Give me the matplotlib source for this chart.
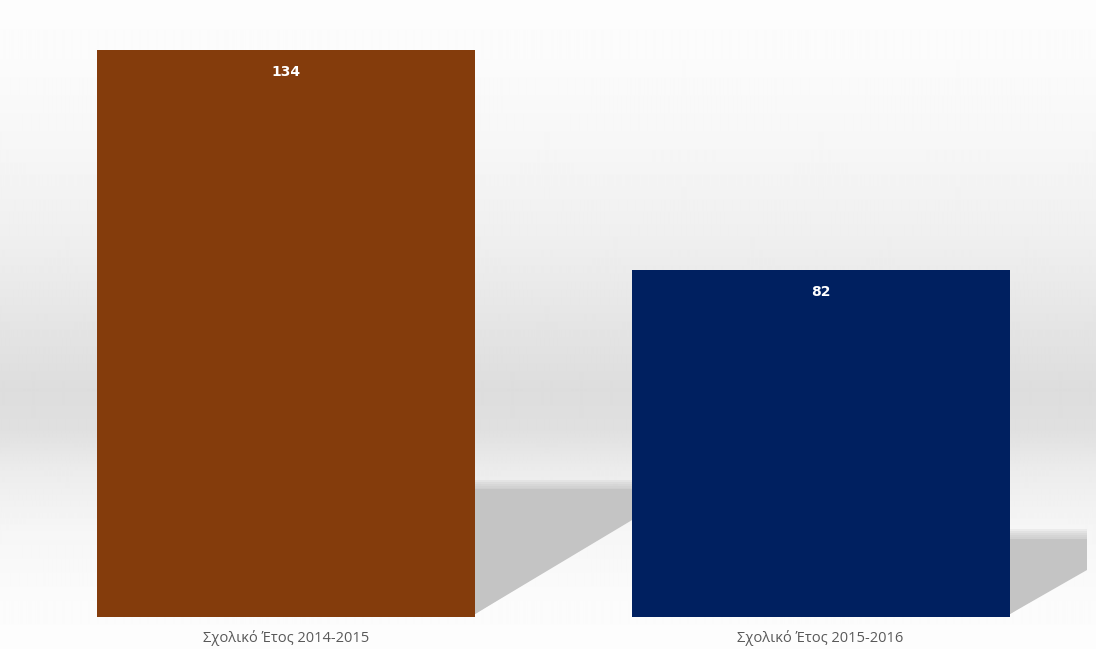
import matplotlib.pyplot as plt
import numpy as np
from matplotlib.patches import Polygon

# Data
categories = ["Σχολικό Έτος 2014-2015", "Σχολικό Έτος 2015-2016"]
values = [134, 82]
colors = ["#843C0C", "#002060"]

W, H = 1096, 649
fig = plt.figure(figsize=(W / 100, H / 100), dpi=100)

# background: soft vertical grey band
bg = fig.add_axes([0, 0, 1, 1], zorder=0)
stops_y = [0, 60, 150, 250, 330, 390, 430, 470, 530, 600, 649]
stops_v = [253, 251, 246, 238, 228, 221, 224, 236, 246, 251, 253]
col = np.interp(np.arange(H), stops_y, stops_v) / 255.0
img = np.repeat(col[:, None], 4, axis=1)
bg.imshow(img, cmap="gray", vmin=0, vmax=1, aspect="auto",
          extent=[0, 1, 0, 1], interpolation="bilinear")
bg.axis("off")

# plot area: baseline at 617px from top
base_px = 617
ax = fig.add_axes([0, (H - base_px) / H, 1, base_px / H], zorder=1)
ax.patch.set_alpha(0)
px_per_unit = 534.5
x_left = -286 / px_per_unit
ax.set_xlim(x_left, x_left + W / px_per_unit)
y_scale = 567 / 134.0  # px per value unit
ax.set_ylim(0, base_px / y_scale)

x = np.arange(len(values))
bar_w = 378 / px_per_unit

# floor shadows to the right of each bar
slope = 0.61  # px drop per px
for i, v in enumerate(values):
    xr = x[i] + bar_w / 2
    hs_px = 0.225 * v * y_scale
    xr_px = 286 + xr * px_per_unit
    w_px = min(hs_px / slope, 1087 - xr_px)
    w = w_px / px_per_unit
    hs = hs_px / y_scale
    end_y = (w_px * slope) / y_scale
    pts = [(xr, 0.8), (xr, hs), (xr + w, hs), (xr + w, min(end_y, hs))]
    # soft top edge: stacked translucent layers
    for k in range(6):
        off = (5 - k) * 0.45
        sh = Polygon([(px, py + off) if py > 1 else (px, py) for px, py in pts],
                     closed=True, facecolor="#c4c4c4", edgecolor="none",
                     alpha=0.22 if k < 5 else 1.0, zorder=1)
        ax.add_patch(sh)

bars = ax.bar(x, values, width=bar_w, color=colors, zorder=3)

for xi, v in zip(x, values):
    ax.text(xi, v - 22 / y_scale, str(v), ha="center", va="center",
            color="white", fontsize=10, fontweight="bold", zorder=4)

ax.set_xticks(x)
ax.set_xticklabels(categories, fontsize=10.5, color="#595959",
                   family="Open Sans")
ax.tick_params(axis="x", length=0, pad=9)
ax.set_yticks([])
for s in ax.spines.values():
    s.set_visible(False)

fig.savefig("out.png", dpi=100)
